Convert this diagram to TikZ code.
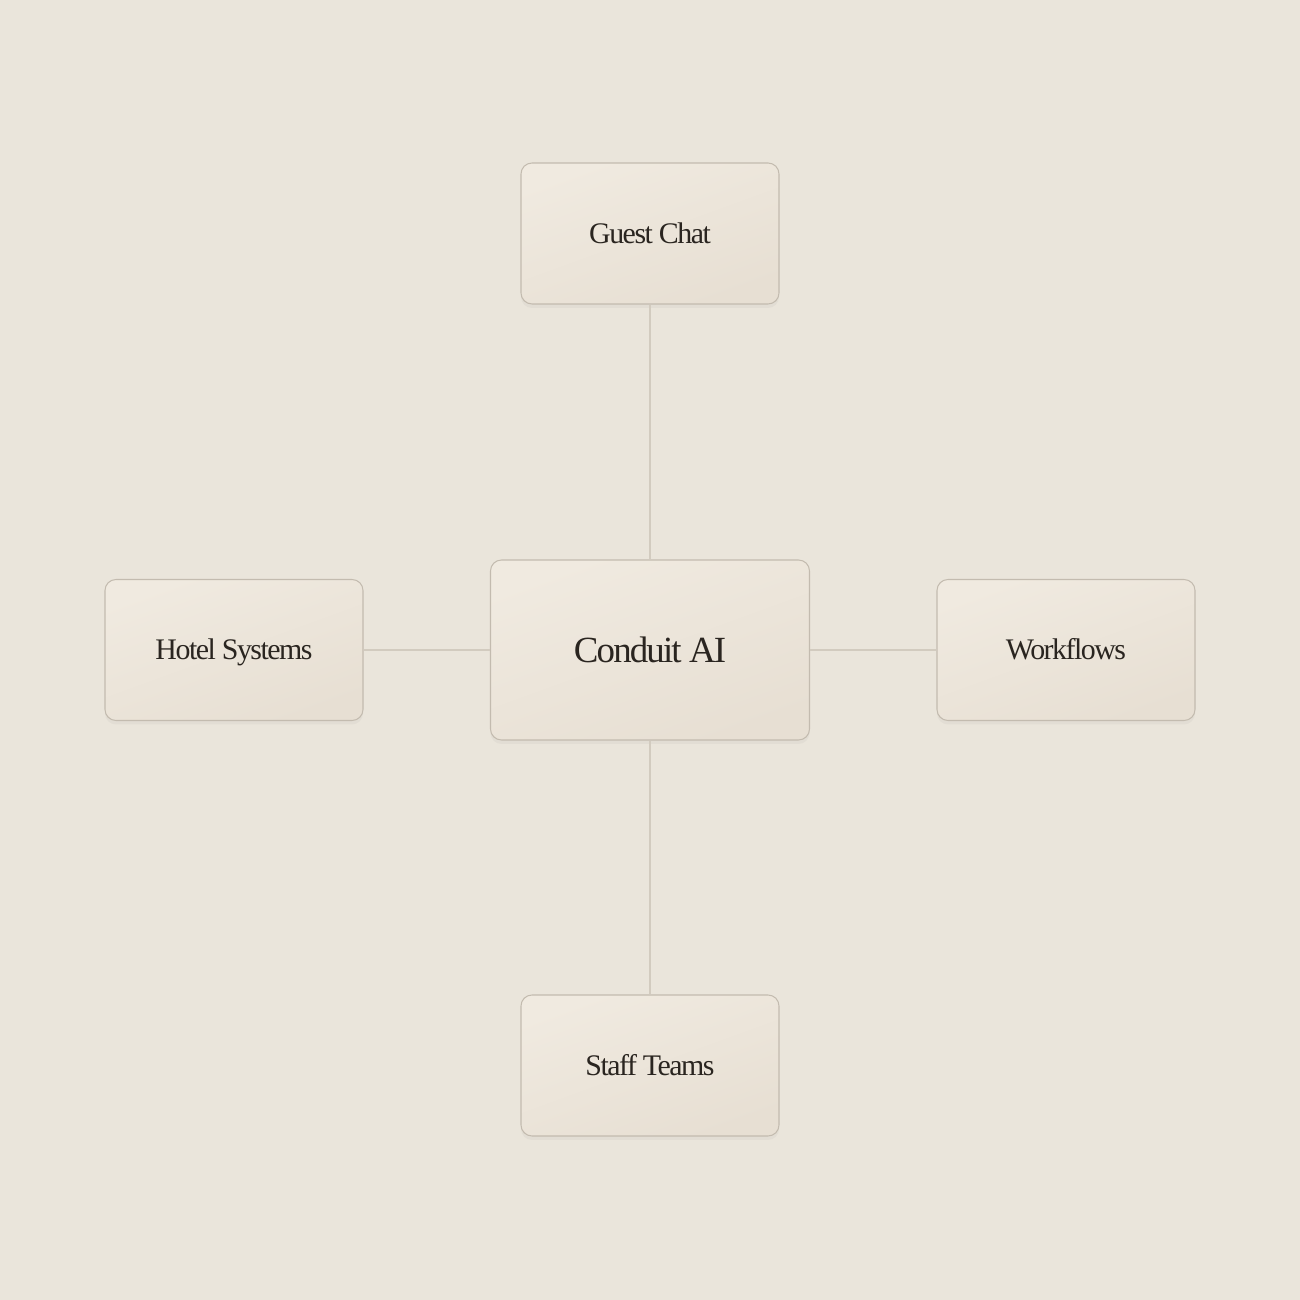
\documentclass[tikz,border=0pt]{standalone}
\usepackage{fontspec}
\usetikzlibrary{positioning,shadows}
\newfontfamily\boxfont{Liberation Serif}[LetterSpace=-5]
\definecolor{paper}{HTML}{EAE5DB}
\definecolor{boxlt}{HTML}{F0EAE0}
\definecolor{boxdk}{HTML}{E7DFD3}
\definecolor{boxline}{HTML}{C3BBAF}
\definecolor{wire}{HTML}{D2CBBF}
\definecolor{ink}{HTML}{2A2520}
\tikzset{
  >={latex},
  unit/.style={rectangle, rounded corners=0.22cm, draw=boxline, line width=0.6pt,
    shading=axis, top color=boxlt, bottom color=boxdk, shading angle=20,
    drop shadow={opacity=0.07, shadow xshift=0cm, shadow yshift=-0.08cm},
    minimum width=5.16cm, minimum height=2.82cm, text=ink,
    text height=0.4cm, text depth=0pt,
    font=\boxfont\fontsize{17}{20}\selectfont},
  hubbox/.style={unit, minimum width=6.38cm, minimum height=3.6cm,
    text height=0.49cm,
    font=\boxfont\fontsize{21}{24}\selectfont},
  wireline/.style={draw=wire, line width=0.65pt}
}

\begin{document}
\begin{tikzpicture}
    \fill[paper] (0,0) rectangle (26,26);
    \useasboundingbox (0,0) rectangle (26,26);
    \node[hubbox] (hub) at (13,13) {Conduit AI};
    \node[unit] (chat) at (13,21.33) {Guest Chat};
    \node[unit] (staff) at (13,4.69) {Staff Teams};
    \node[unit] (hotel) at (4.68,13) {Hotel Systems};
    \node[unit] (flows) at (21.32,13) {Workflows};
    \draw[wireline] (hub) -- (chat);
    \draw[wireline] (hub) -- (staff);
    \draw[wireline] (hub) -- (hotel);
    \draw[wireline] (hub) -- (flows);
  \end{tikzpicture}
\end{document}
